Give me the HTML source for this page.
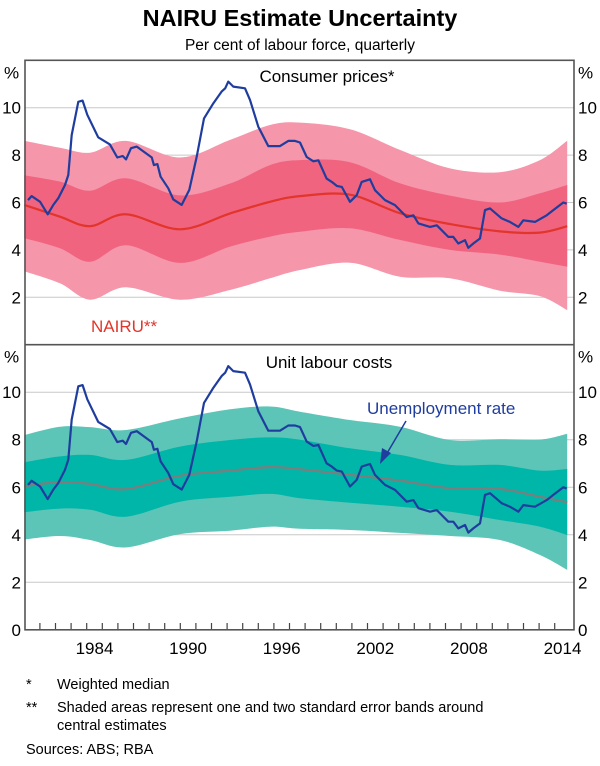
<!DOCTYPE html>
<html><head><meta charset="utf-8">
<style>
body{margin:0;background:#fff;width:600px;height:761px;overflow:hidden;font-family:"Liberation Sans",Arial,sans-serif;}
svg text{font-family:"Liberation Sans",Arial,sans-serif;}
</style></head>
<body>
<svg id="chart" width="600" height="761" viewBox="0 0 600 761" xmlns="http://www.w3.org/2000/svg">
<text x="300" y="26" text-anchor="middle" font-size="23.5" font-weight="bold" fill="#000">NAIRU Estimate Uncertainty</text>
<text x="300" y="50" text-anchor="middle" font-size="15.5" fill="#000">Per cent of labour force, quarterly</text>
<g id="plot"></g>
<g font-size="14.5" fill="#000">
<text x="26" y="689">*</text>
<text x="57" y="689">Weighted median</text>
<text x="26" y="712">**</text>
<text x="57" y="712">Shaded areas represent one and two standard error bands around</text>
<text x="57" y="730">central estimates</text>
<text x="26" y="754">Sources:   ABS; RBA</text>
</g>
</svg>
<script>
// Unemployment rate
const urYears = [1980.24,1980.47,1981.01,1981.5,1981.86,1982.18,1982.61,1982.82,1983.04,1983.46,1983.74,1984.04,1984.74,1985.49,1985.96,1986.31,1986.52,1986.84,1987.21,1987.85,1988.17,1988.31,1988.53,1988.74,1989.23,1989.55,1990.09,1990.58,1991.05,1991.52,1992.12,1992.65,1992.88,1993.08,1993.4,1994.15,1994.47,1995.0,1995.64,1996.39,1996.92,1997.35,1997.67,1998.1,1998.53,1998.85,1999.38,1999.71,2000.03,2000.35,2000.88,2001.31,2001.63,2002.16,2002.48,2003.12,2003.76,2004.51,2004.94,2005.26,2006.01,2006.44,2007.18,2007.5,2007.82,2008.25,2008.46,2008.78,2009.21,2009.53,2009.85,2010.6,2011.13,2011.67,2011.99,2012.74,2013.49,2013.91,2014.55,2014.77];
const urValues = [6.1,6.27,6.03,5.5,5.9,6.18,6.74,7.16,8.85,10.25,10.3,9.7,8.75,8.45,7.9,7.96,7.82,8.29,8.36,8.05,7.9,7.58,7.62,7.09,6.6,6.13,5.9,6.53,7.93,9.55,10.19,10.68,10.82,11.1,10.89,10.82,10.33,9.2,8.38,8.38,8.6,8.6,8.53,7.92,7.74,7.78,7.01,6.87,6.7,6.66,6.03,6.31,6.87,6.98,6.52,6.1,5.89,5.39,5.46,5.12,4.97,5.04,4.55,4.55,4.27,4.41,4.09,4.27,4.48,5.68,5.75,5.33,5.18,4.97,5.25,5.18,5.46,5.68,6.0,5.95];
// Band sample years (shared)
const bandYears = [1980.0,1982.29,1984.21,1986.52,1989.98,1993.19,1995.75,1997.67,2000.88,2004.08,2007.29,2010.49,2013.06,2014.8];
// Consumer prices NAIRU
const cpiNairu = [5.9,5.4,5.0,5.5,4.87,5.54,6.03,6.27,6.33,5.55,5.09,4.78,4.73,5.0];
const cpiIn1Lo = [4.5,4.07,3.5,4.2,3.45,4.14,4.56,4.77,4.91,4.42,4.0,3.8,3.5,3.29];
const cpiIn1Hi = [7.15,6.88,6.5,7.02,6.3,6.8,7.58,7.79,7.7,6.81,6.29,6.0,6.39,6.74];
const cpiOut2Lo = [3.1,2.59,1.9,2.42,1.9,2.31,2.8,3.15,3.46,2.87,2.8,2.28,2.05,1.46];
const cpiOut2Hi = [8.6,8.31,8.1,8.6,7.9,8.64,9.27,9.37,9.09,8.22,7.44,7.28,7.79,8.61];
// Unit labour costs NAIRU
const ulcNairu = [6.05,6.22,6.14,5.92,6.48,6.7,6.85,6.76,6.52,6.28,5.96,5.93,5.6,5.37];
const ulcIn1Lo = [4.95,5.1,5.05,4.76,5.39,5.6,5.72,5.54,5.35,5.18,4.97,4.62,4.34,3.99];
const ulcIn1Hi = [7.05,7.3,7.36,7.15,7.71,7.99,8.1,8.0,7.64,7.36,6.94,6.94,6.7,6.77];
const ulcOut2Lo = [3.8,3.95,3.78,3.47,4.03,4.17,4.34,4.25,4.2,4.08,3.95,3.78,3.15,2.52];
const ulcOut2Hi = [8.2,8.55,8.53,8.41,8.9,9.28,9.4,9.18,8.83,8.55,7.99,8.02,8.0,8.25];
// Axis
const yTicks = [0,2,4,6,8,10];
const xLabels = [1984,1990,1996,2002,2008,2014];

const NS='http://www.w3.org/2000/svg';
const L=25,R=574;
const xS = y => 86.7 + (y-1984)*15.6;
const panels = [{top:60.3,bot:344.7},{top:344.7,bot:629.8}];
function yS(p,v){return p.bot - v*(p.bot-p.top)/12;}
const plot=document.getElementById('plot');
function mk(tag,attrs,parent){const e=document.createElementNS(NS,tag);for(const k in attrs)e.setAttribute(k,attrs[k]);(parent||plot).appendChild(e);return e;}
// smooth curve through points (Catmull-Rom -> cubic bezier)
function smooth(pts,startCmd){
  let d=startCmd+pts[0][0].toFixed(1)+','+pts[0][1].toFixed(1);
  for(let i=0;i<pts.length-1;i++){
    const p0=pts[Math.max(0,i-1)],p1=pts[i],p2=pts[i+1],p3=pts[Math.min(pts.length-1,i+2)];
    const c1=[p1[0]+(p2[0]-p0[0])/6,p1[1]+(p2[1]-p0[1])/6];
    const c2=[p2[0]-(p3[0]-p1[0])/6,p2[1]-(p3[1]-p1[1])/6];
    d+='C'+c1[0].toFixed(1)+','+c1[1].toFixed(1)+' '+c2[0].toFixed(1)+','+c2[1].toFixed(1)+' '+p2[0].toFixed(1)+','+p2[1].toFixed(1);
  }
  return d;
}
function bandPath(p,lo,hi){
  const top=bandYears.map((yr,i)=>[xS(yr),yS(p,hi[i])]);
  const bot=bandYears.map((yr,i)=>[xS(yr),yS(p,lo[i])]).reverse();
  return smooth(top,'M')+smooth(bot,'L')+'Z';
}
function smoothLine(p,xs,vs){return smooth(xs.map((yr,i)=>[xS(yr),yS(p,vs[i])]),'M');}
function linePath(p,xs,vs){return xs.map((yr,i)=>(i?'L':'M')+xS(yr).toFixed(1)+','+yS(p,vs[i]).toFixed(1)).join('');}

const specs=[
 {p:panels[0],nairu:cpiNairu,lo1:cpiIn1Lo,hi1:cpiIn1Hi,lo2:cpiOut2Lo,hi2:cpiOut2Hi,c2:'#f596aa',c1:'#f0647f',cl:'#e2352b',name:'consumer-prices'},
 {p:panels[1],nairu:ulcNairu,lo1:ulcIn1Lo,hi1:ulcIn1Hi,lo2:ulcOut2Lo,hi2:ulcOut2Hi,c2:'#5dc5b7',c1:'#00b6a8',cl:'#7d7d7d',name:'unit-labour-costs'}
];
specs.forEach((s,si)=>{
  const p=s.p;
  yTicks.forEach(v=>{
    if(v===0) return;
    const g=mk('line',{x1:L,x2:R,y1:yS(p,v),y2:yS(p,v),stroke:'#c8c8c8','stroke-width':1});
    
    
  });
  const o=mk('path',{d:bandPath(p,s.lo2,s.hi2),fill:s.c2});
  
  
  const i=mk('path',{d:bandPath(p,s.lo1,s.hi1),fill:s.c1});
  
  
  const n=mk('path',{d:smoothLine(p,bandYears,s.nairu),fill:'none',stroke:s.cl,'stroke-width':2.2,'stroke-linejoin':'round'});
  
  
  const u=mk('path',{d:linePath(p,urYears,urValues),fill:'none',stroke:'#1f3d9e','stroke-width':2.2,'stroke-linejoin':'round'});
  
  
  yTicks.forEach(v=>{
    if(si===0 && v===0) return;
    const ty=yS(p,v)+6;
    const a=mk('text',{x:21,y:ty,'text-anchor':'end','font-size':17,fill:'#000'});a.textContent=v;
    
    
    const b=mk('text',{x:578,y:ty,'text-anchor':'start','font-size':17,fill:'#000'});b.textContent=v;
    
    
  });
  const pl=mk('text',{x:4,y:p.top+18,'font-size':17,fill:'#000'});pl.textContent='%';
  
  
  const pr=mk('text',{x:578,y:p.top+18,'font-size':17,fill:'#000'});pr.textContent='%';
  
  
});
// x ticks
for(let yr=1981;yr<=2014;yr++){
  const t=mk('line',{x1:xS(yr),x2:xS(yr),y1:629.8,y2:623,stroke:'#444','stroke-width':1.2});
  
  
}
xLabels.forEach(yr=>{
  const t=mk('text',{x:xS(yr+0.5),y:654,'text-anchor':'middle','font-size':17,fill:'#000'});t.textContent=yr;
  
  
});
// frames
const f=mk('rect',{x:L,y:60.3,width:R-L,height:629.8-60.3,fill:'none',stroke:'#555','stroke-width':1.6});


const dv=mk('line',{x1:L,x2:R,y1:344.7,y2:344.7,stroke:'#555','stroke-width':1.6});


// annotations
const t1=mk('text',{x:327,y:82,'text-anchor':'middle','font-size':17,fill:'#000'});t1.textContent='Consumer prices*';


const t2=mk('text',{x:329,y:368,'text-anchor':'middle','font-size':17,fill:'#000'});t2.textContent='Unit labour costs';


const t3=mk('text',{x:91,y:332,'font-size':17,fill:'#e2352b'});t3.textContent='NAIRU**';


const t4=mk('text',{x:367,y:414,'font-size':17,fill:'#1f3d9e'});t4.textContent='Unemployment rate';


const ar=mk('line',{x1:406,y1:421,x2:386,y2:455,stroke:'#1f3d9e','stroke-width':1.5});


const ah=mk('path',{d:'M380,464 L382,448 L391,453 Z',fill:'#1f3d9e'});


</script>
</body></html>
